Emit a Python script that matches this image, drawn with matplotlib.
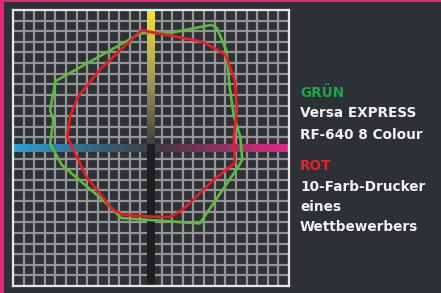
import numpy as np
import matplotlib
matplotlib.use('Agg')
import matplotlib.pyplot as plt
from matplotlib.colors import LinearSegmentedColormap
from matplotlib.patches import Rectangle

# a*/b* gamut outlines (one grid cell = 10 units)
green_a = [-90, -10, 21, 57, 62, 71, 74, 78, 84, 86, 82, 46, -28, -42, -84, -95, -92, -95]
green_b = [63, 108, 109, 116, 113, 92, 58, 30, 11, -11, -18, -71, -66, -52, -16, 4, 26, 36]

red_a = [-9, 49, 70, 79, 81, 78, 79, 59, 30, 18, 8, -26, -36, -61, -79, -76, -69, -48]
red_b = [111, 100, 88, 64, 36, 11, -14, -30, -58, -65, -65, -63, -58, -27, 11, 30, 48, 74]

legend_lines = [
    ('GRÜN', '#19a64a'),
    ('Versa EXPRESS', '#f2f2f2'),
    ('RF-640 8 Colour', '#f2f2f2'),
    ('ROT', '#ea1f2b'),
    ('10-Farb-Drucker', '#f2f2f2'),
    ('eines', '#f2f2f2'),
    ('Wettbewerbers', '#f2f2f2'),
]
legend_y = [97, 117, 139, 170, 191, 211, 231]  # baselines in px

W, H = 441, 293
bg = '#2d3034'

fig = plt.figure(figsize=(W / 100, H / 100), dpi=100, facecolor=bg)

# pink frame on left and top
fig.patches.append(Rectangle((0, 0), 3.5 / W, 1, transform=fig.transFigure,
                             facecolor='#e8267c', lw=0))
fig.patches.append(Rectangle((0, 1 - 2.2 / H), 1, 2.2 / H, transform=fig.transFigure,
                             facecolor='#e8267c', lw=0))

ax = fig.add_axes([13 / W, 7 / H, 276 / W, 276 / H])
ax.set_facecolor(bg)
lim = 130
ax.set_xlim(-lim, lim)
ax.set_ylim(-lim, lim)
ticks = np.arange(-lim, lim + 1, 10)
ax.set_xticks(ticks)
ax.set_yticks(ticks)
ax.tick_params(length=0, labelbottom=False, labelleft=False)
ax.grid(True, color='#929496', linewidth=1.6)
ax.set_axisbelow(True)
for s in ax.spines.values():
    s.set_color('#e6e6e6')
    s.set_linewidth(1.6)

# gradient axis bars
hw = 3.3
grad = np.linspace(0, 1, 256).reshape(1, -1)
cm_left = LinearSegmentedColormap.from_list('l', ['#2aa0da', '#3c4046'])
cm_right = LinearSegmentedColormap.from_list('r', ['#3a3a3e', '#e8288a'])
cm_top = LinearSegmentedColormap.from_list('t', ['#3a3a3a', '#a09a5c', '#f4e432'])
ax.imshow(grad, cmap=cm_left, extent=[-lim, 0, -hw, hw], aspect='auto', zorder=2)
ax.imshow(grad, cmap=cm_right, extent=[0, lim, -hw, hw], aspect='auto', zorder=2)
ax.imshow(grad.T, cmap=cm_top, origin='lower', extent=[-hw, hw, 0, lim], aspect='auto', zorder=2)
ax.add_patch(Rectangle((-hw, -lim), 2 * hw, lim + hw, facecolor='#1f1f21', lw=0, zorder=2.1))

ax.plot(green_a + green_a[:1], green_b + green_b[:1], color='#5cbd3c', lw=1.9, zorder=3,
        solid_joinstyle='round')
ax.plot(red_a + red_a[:1], red_b + red_b[:1], color='#ec1c24', lw=1.9, zorder=4,
        solid_joinstyle='round')

for (txt, col), yb in zip(legend_lines, legend_y):
    fig.text(300 / W, 1 - yb / H, txt, color=col, fontsize=9.8, family='DejaVu Sans',
             fontweight='bold', va='baseline', ha='left')

fig.savefig('out.png', dpi=100, facecolor=bg)
